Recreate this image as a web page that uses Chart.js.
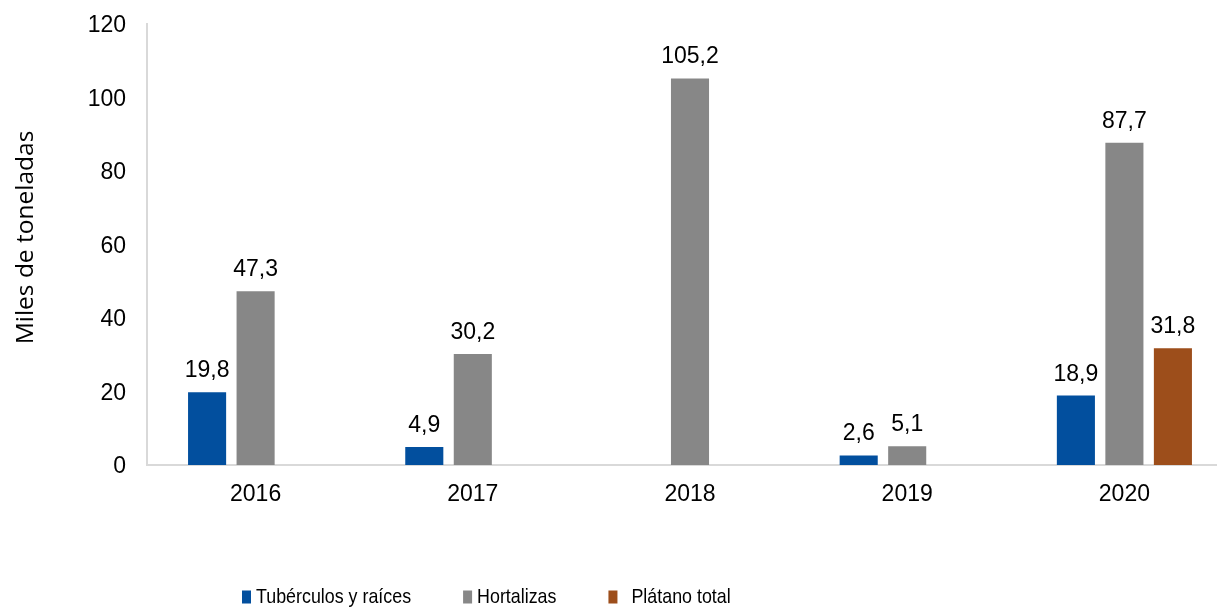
<!DOCTYPE html>
<html lang="es">
<head>
<meta charset="utf-8">
<title>Miles de toneladas por año</title>
<script src="https://cdn.jsdelivr.net/npm/chart.js@4.4.1/dist/chart.umd.min.js"></script>
<style>
  html, body { margin: 0; padding: 0; background: #fff; overflow: hidden; }
  #wrap { width: 1240px; height: 609px; }
</style>
</head>
<body>
<div id="wrap"><canvas id="chart" width="1240" height="609"></canvas></div>
<script>
// ------------------------
// Data
// ------------------------
const years = ['2016', '2017', '2018', '2019', '2020'];
const tuberculos = [19.8, 4.9, null, 2.6, 18.9];
const hortalizas = [47.3, 30.2, 105.2, 5.1, 87.7];
const platano = [null, null, null, null, 31.8];
const seriesNames = ['Tubérculos y raíces', 'Hortalizas', 'Plátano total'];
const yTicks = [0, 20, 40, 60, 80, 100, 120];
const yTitle = 'Miles de toneladas';

const colors = ['#024F9E', '#878787', '#9D4E1B'];
const axisColor = '#D9D9D9';
const baseFont = '"Liberation Sans", Arial, sans-serif';

// decimal comma, as in the source
const fmt = v => v.toFixed(1).replace('.', ',');

// ------------------------
// Plugins
// ------------------------

// Value labels above each bar
const valueLabels = {
    id: 'valueLabels',
    afterDatasetsDraw(chart) {
        const ctx = chart.ctx;
        ctx.save();
        ctx.font = '23px ' + baseFont;
        ctx.fillStyle = '#000';
        ctx.textAlign = 'center';
        ctx.textBaseline = 'alphabetic';
        chart.data.datasets.forEach((ds, i) => {
            chart.getDatasetMeta(i).data.forEach((bar, j) => {
                const v = ds.data[j];
                if (v == null) return;
                ctx.fillText(fmt(v), bar.x, bar.y - 15);
            });
        });
        ctx.restore();
    }
};

// Rotated y-axis title, sitting a little above the axis middle
const axisTitle = {
    id: 'axisTitle',
    afterDraw(chart) {
        const { ctx, chartArea } = chart;
        ctx.save();
        ctx.translate(26, (chartArea.top + chartArea.bottom) / 2 - 7);
        ctx.rotate(-Math.PI / 2);
        ctx.font = '24.5px "Open Sans", sans-serif';
        ctx.fillStyle = '#000';
        ctx.textAlign = 'center';
        ctx.textBaseline = 'middle';
        ctx.fillText(yTitle, 0, 0);
        ctx.restore();
    }
};

// Legend row at the bottom (narrow boxes, condensed text)
const bottomLegend = {
    id: 'bottomLegend',
    afterDraw(chart) {
        const ctx = chart.ctx;
        const squeeze = 0.85;
        ctx.save();
        ctx.font = '21px ' + baseFont;
        ctx.textBaseline = 'middle';
        ctx.textAlign = 'left';
        let x = 242;
        const y = 597;
        chart.data.datasets.forEach((ds, i) => {
            ctx.fillStyle = ds.backgroundColor;
            ctx.fillRect(x, y - 6.5, 9, 13);
            // last entry carries the extra gap seen in the source
            const tx = x + (i === 2 ? 23 : 14);
            ctx.save();
            ctx.translate(tx, y);
            ctx.scale(squeeze, 1);
            ctx.fillStyle = '#000';
            ctx.fillText(ds.label, 0, 0);
            ctx.restore();
            x = tx + ctx.measureText(ds.label).width * squeeze + 52;
        });
        ctx.restore();
    }
};

// ------------------------
// Chart
// ------------------------
const ctx = document.getElementById('chart').getContext('2d');

new Chart(ctx, {
    type: 'bar',
    data: {
        labels: years,
        datasets: [tuberculos, hortalizas, platano].map((data, i) => ({
            label: seriesNames[i],
            data,
            backgroundColor: colors[i],
            borderWidth: 0,
            categoryPercentage: 0.67,
            barPercentage: 0.785
        }))
    },
    options: {
        responsive: false,
        animation: false,
        layout: { padding: { top: 24, right: 7, bottom: 0, left: 0 } },
        plugins: {
            legend: { display: false },
            tooltip: { enabled: false }
        },
        scales: {
            x: {
                grid: { display: false, drawTicks: false },
                border: { display: true, color: axisColor, width: 2 },
                ticks: { color: '#000', padding: 16, font: { family: baseFont, size: 23 } },
                afterFit: scale => { scale.height = 144; }
            },
            y: {
                min: 0,
                max: 120,
                afterBuildTicks: scale => { scale.ticks = yTicks.map(value => ({ value })); },
                grid: { display: false, drawTicks: false },
                border: { display: true, color: axisColor, width: 2 },
                ticks: { color: '#000', padding: 21, labelOffset: 2, font: { family: baseFont, size: 23 } },
                afterFit: scale => {
                    scale.width = 147;
                    // let the plot top sit on the layout padding, not the label overhang
                    scale.paddingTop = 0;
                    scale.paddingBottom = 0;
                }
            }
        }
    },
    plugins: [valueLabels, axisTitle, bottomLegend]
});
</script>
</body>
</html>
